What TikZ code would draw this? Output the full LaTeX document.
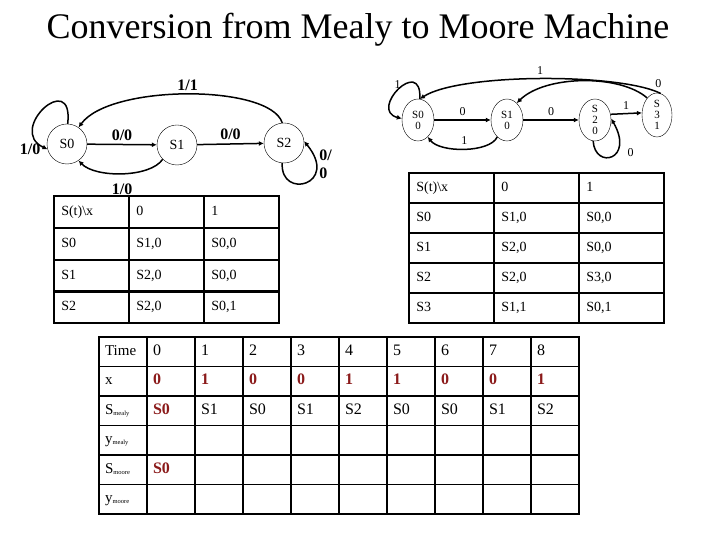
\documentclass[tikz,border=0pt]{standalone}
\usepackage{fontspec}
\setmainfont{Liberation Serif}
\usetikzlibrary{arrows.meta, matrix, shapes.geometric, positioning}
\definecolor{darkred}{RGB}{139,26,26}
\newcommand{\subtxt}[1]{\raisebox{-1pt}{\fontsize{6.5}{7}\selectfont #1}}

\begin{document}
\begin{tikzpicture}[x=1pt, y=1pt,
    state/.style={draw, circle, thin, minimum size=40pt, inner sep=0pt, font=\fontsize{14}{16}\selectfont},
    mstate/.style={draw, ellipse, thin, minimum width=32pt, minimum height=42pt, inner sep=0pt, align=center, font=\fontsize{11}{11}\selectfont},
    edge/.style={-{Latex[length=5pt,width=5pt]}, line width=1.5pt},
    lbl/.style={font=\fontsize{16}{18}\selectfont\bfseries},
    mlbl/.style={font=\fontsize{12}{14}\selectfont},
    cell/.style={draw, outer sep=0pt, inner sep=7pt, anchor=center, align=left, text height=10pt, text depth=3pt, font=\fontsize{14}{16}\selectfont},
    hl/.style={text=darkred, font=\fontsize{16}{18}\selectfont\bfseries}]
    \path[fill=white] (0,0) rectangle (720,540);
    \useasboundingbox (0,0) rectangle (720,540);

    \node[font=\fontsize{36}{40}\selectfont] (title) at (358,510) {Conversion from Mealy to Moore Machine};

    % Mealy machine
    \node[state] (ms0) at (67,396) {S0};
    \node[state] (ms1) at (177,395) {S1};
    \node[state] (ms2) at (284,397) {S2};
    \draw[edge] (ms0) -- node[lbl, above] {0/0} (ms1);
    \draw[edge] (ms1) -- node[lbl, above] {0/0} (ms2);
    \draw[edge] (ms2.95) .. controls (270,456) and (110,456) .. node[lbl, above] {1/1} (ms0.55);
    \draw[edge] (ms1.225) .. controls (150,362) and (95,362) .. node[lbl, below=6pt] {1/0} (ms0.305);
    \draw[edge] (ms0.88) .. controls (74,472) and (6,410) .. node[lbl, pos=1, left=3pt] {1/0} (ms0.195);
    \draw[edge] (ms2.265) .. controls (280,340) and (340,355) .. node[lbl, pos=0.8, right, align=left] {0/\\0} (ms2.5);

    % Moore machine
    \node[mstate] (ns0) at (418,420) {S0\\0};
    \node[mstate] (ns1) at (507,420) {S1\\0};
    \node[mstate] (ns2) at (595,420) {S\\2\\0};
    \node[mstate, minimum width=30pt, minimum height=44pt] (ns3) at (657,425) {S\\3\\1};
    \draw[edge] (ns0) -- node[mlbl, above] {0} (ns1);
    \draw[edge] (ns1) -- node[mlbl, above] {0} (ns2);
    \draw[edge] (ns2.20) -- node[mlbl, above] {1} (ns3.172);
    \draw[edge] (ns1.240) .. controls (490,387) and (440,387) .. node[mlbl, above] {1} (ns0.300);
    \draw[edge] (ns3.80) .. controls (620,467) and (460,467) .. node[mlbl, above] {1} (ns0.85);
    \draw[edge] (ns3.120) .. controls (620,466) and (545,465) .. node[mlbl, pos=0, above right=6pt and 4pt] {0} (ns1.60);
    \draw[edge] (ns0.85) .. controls (422,485) and (368,430) .. node[mlbl, pos=0.4, left] {1} (ns0.175);
    \draw[edge] (ns2.265) .. controls (595,370) and (635,380) .. node[mlbl, pos=0.6, right=8pt] {0} (ns2.5);

    % state tables
    \matrix (mealytab) [matrix of nodes, nodes in empty cells, anchor=north west, inner sep=0pt,
        column sep=-2.2pt, row sep=-2.2pt,
        nodes={cell, line width=2.2pt, text width=61pt, minimum height=31.75pt}] at (53,345) {
        S(t)\textbackslash x & 0 & 1 \\
        S0 & S1,0 & S0,0 \\
        S1 & S2,0 & S0,0 \\
        S2 & S2,0 & S0,1 \\
    };
    \matrix (mooretab) [matrix of nodes, nodes in empty cells, anchor=north west, inner sep=0pt,
        column sep=-2.2pt, row sep=-2.2pt,
        nodes={cell, line width=2.2pt, text width=71pt, minimum height=30pt}] at (408,368) {
        S(t)\textbackslash x & 0 & 1 \\
        S0 & S1,0 & S0,0 \\
        S1 & S2,0 & S0,0 \\
        S2 & S2,0 & S3,0 \\
        S3 & S1,1 & S0,1 \\
    };

    % timing table
    \matrix (timetab) [matrix of nodes, nodes in empty cells, anchor=north west, inner sep=0pt,
        column sep=-1.8pt, row sep=-1.8pt,
        nodes={cell, line width=1.8pt, inner sep=6pt, text width=36pt, minimum height=29.5pt, font=\fontsize{16}{18}\selectfont}] at (98,204) {
        |[font=\fontsize{15}{16}\selectfont]| Time & 0 & 1 & 2 & 3 & 4 & 5 & 6 & 7 & 8 \\
        |[font=\fontsize{15}{16}\selectfont]| x & |[hl]| 0 & |[hl]| 1 & |[hl]| 0 & |[hl]| 0 & |[hl]| 1 & |[hl]| 1 & |[hl]| 0 & |[hl]| 0 & |[hl]| 1 \\
        |[font=\fontsize{15}{16}\selectfont]| S\subtxt{mealy} & |[hl]| S0 & S1 & S0 & S1 & S2 & S0 & S0 & S1 & S2 \\
        |[font=\fontsize{15}{16}\selectfont]| y\subtxt{mealy} & & & & & & & & & \\
        |[font=\fontsize{15}{16}\selectfont]| S\subtxt{moore} & |[hl]| S0 & & & & & & & & \\
        |[font=\fontsize{15}{16}\selectfont]| y\subtxt{moore} & & & & & & & & & \\
    };
\end{tikzpicture}
\end{document}
